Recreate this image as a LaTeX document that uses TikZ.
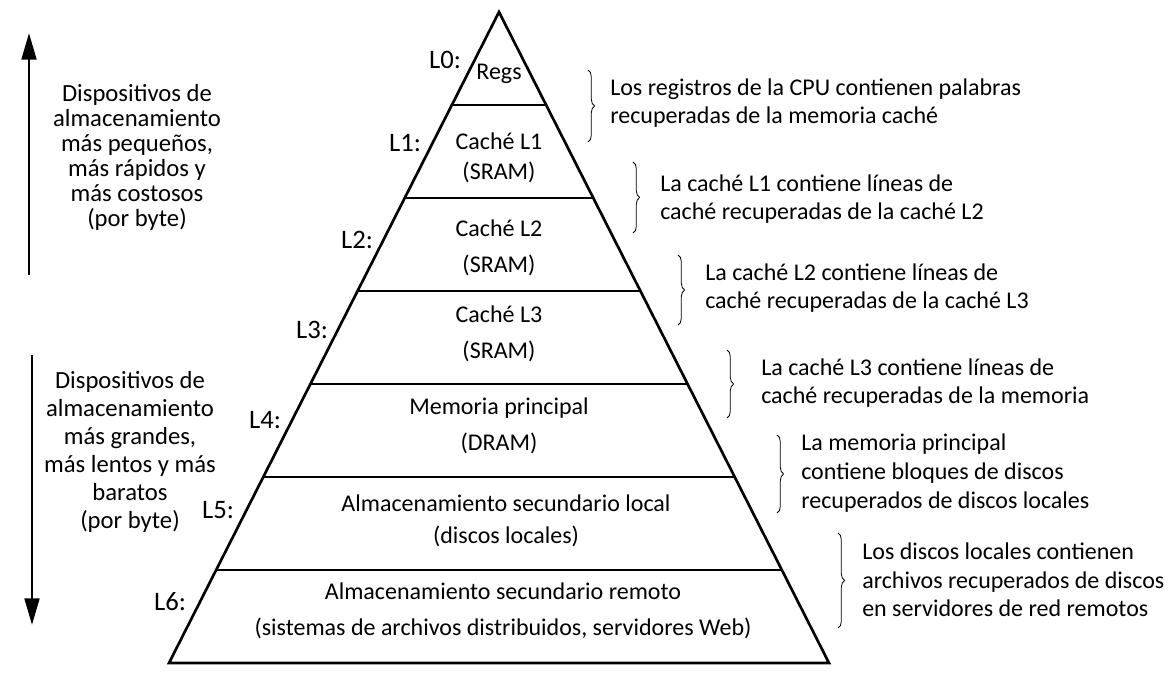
\documentclass[tikz,border=0pt]{standalone}
\usepackage{fontspec}
\setmainfont{Carlito}
\usetikzlibrary{decorations.pathreplacing,arrows.meta}

\begin{document}
\begin{tikzpicture}[x=0.75pt,y=-0.75pt,
		lvl/.style={font=\fontsize{18}{27}\selectfont, align=center},
		tag/.style={font=\fontsize{20}{22}\selectfont},
		side/.style={font=\fontsize{18.5}{18.75}\selectfont, align=center},
		note/.style={font=\fontsize{18}{21.5}\selectfont, align=left, anchor=west, inner sep=0pt},
		brc/.style={decorate, decoration={brace, amplitude=5pt}, line width=0.6pt}]
	\useasboundingbox (0,0) rectangle (1172,680);
	% pyramid
		\draw[line width=2pt] (169,663) -- (499,12) -- (829,663) -- cycle;
		\foreach \k in {1,...,6}{
			\draw[line width=2pt] ({499-0.507*93*\k},{12+93*\k}) -- ({499+0.507*93*\k},{12+93*\k});
			}
	% levels
		\node[lvl] (t0) at (499,74) {Regs};
		\node[lvl] (t1) at (499,158) {Caché L1\\[-4.5pt](SRAM)};
		\node[lvl] (t2) at (499,248) {Caché L2\\(SRAM)};
		\node[lvl] (t3) at (499,334) {Caché L3\\(SRAM)};
		\node[lvl] (t4) at (499,426) {Memoria principal\\(DRAM)};
		\node[lvl] (t5) at (506,521) {Almacenamiento secundario local\\[-2.5pt](discos locales)};
		\node[lvl] (t6) at (503,611) {Almacenamiento secundario remoto\\(sistemas de archivos distribuidos, servidores Web)};
	% level tags
		\node[tag] (l0) at (445,60) {L0:};
		\node[tag] (l1) at (405,143) {L1:};
		\node[tag] (l2) at (357,240) {L2:};
		\node[tag] (l3) at (312,330) {L3:};
		\node[tag] (l4) at (265,420) {L4:};
		\node[tag] (l5) at (218,510) {L5:};
		\node[tag] (l6) at (170,602) {L6:};
	% left side
		\draw[line width=2.2pt, -{Triangle[length=20pt,width=11pt]}] (29,275) -- (29,33);
		\draw[line width=2.2pt, -{Triangle[length=20pt,width=11pt]}] (32,355) -- (32,625);
		\node[side] (up) at (137,157) {Dispositivos de\\almacenamiento\\más pequeños,\\más rápidos y\\más costosos\\(por byte)};
		\node[side, font=\fontsize{18.5}{21}\selectfont] (down) at (130,452) {Dispositivos de\\almacenamiento\\más grandes,\\más lentos y más\\baratos\\(por byte)};
	% notes
		\node[note] (n0) at (610,103) {Los registros de la CPU contienen palabras\\recuperadas de la memoria caché};
		\node[note] (n1) at (660,199) {La caché L1 contiene líneas de\\caché recuperadas de la caché L2};
		\node[note] (n2) at (705,288) {La caché L2 contiene líneas de\\caché recuperadas de la caché L3};
		\node[note] (n3) at (761,383) {La caché L3 contiene líneas de\\caché recuperadas de la memoria};
		\node[note] (n4) at (801,473) {La memoria principal\\contiene bloques de discos\\recuperados de discos locales};
		\node[note] (n5) at (862,580) {Los discos locales contienen\\archivos recuperados de discos\\en servidores de red remotos};
	% braces
		\foreach \x/\a/\b in {588/70/142, 633/162/233, 678/255/325, 727/350/418, 777/435/513, 838/533/628}{
			\draw[brc] (\x,\a) -- (\x,\b);
			}
\end{tikzpicture}
\end{document}
